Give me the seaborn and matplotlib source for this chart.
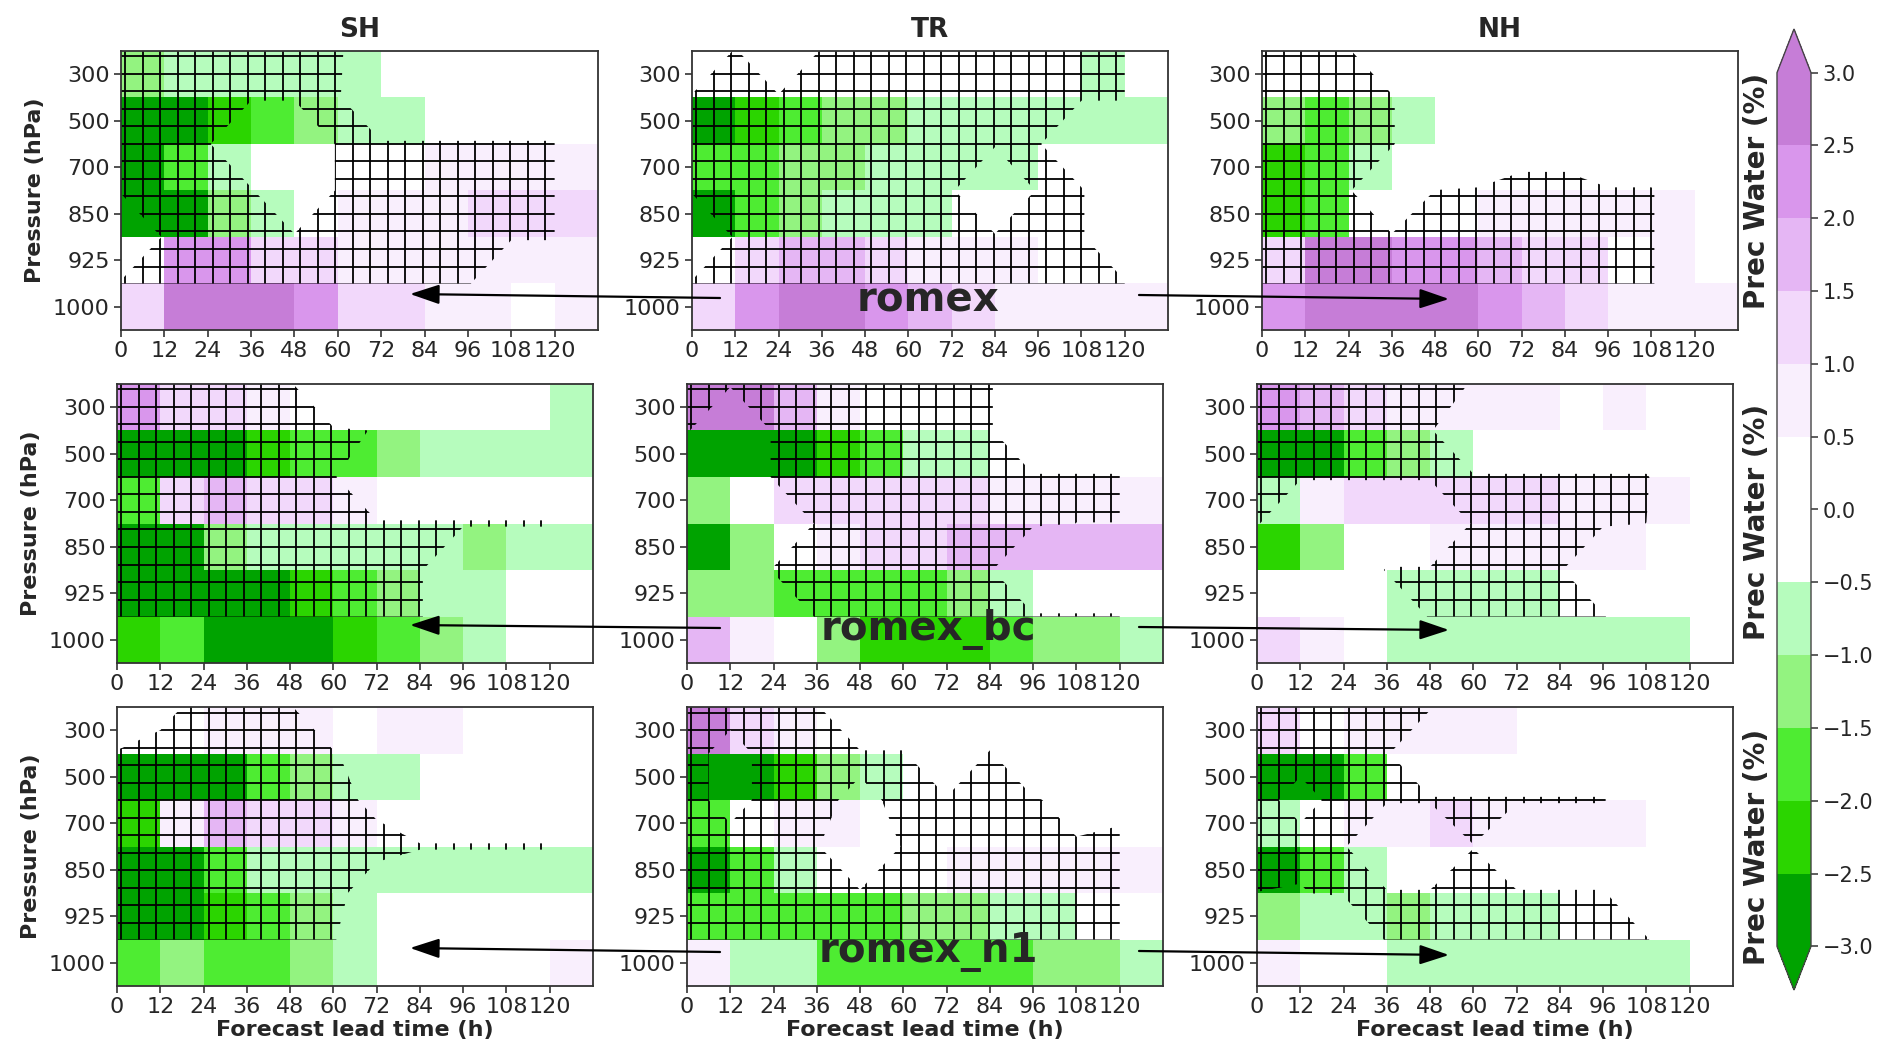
import numpy as np
import pandas as pd
import matplotlib
matplotlib.use("Agg")
import matplotlib.pyplot as plt
from matplotlib.colors import ListedColormap, BoundaryNorm
from matplotlib.cm import ScalarMappable
from matplotlib.patches import FancyArrowPatch
from matplotlib.collections import LineCollection
import seaborn as sns

# ---------------- data ----------------
pressure_levels = ["300", "500", "700", "850", "925", "1000"]
lead_time_ticks = ["0", "12", "24", "36", "48", "60", "72", "84", "96", "108", "120"]
regions = ["SH", "TR", "NH"]
experiments = ["romex", "romex_bc", "romex_n1"]
cbar_levels = [-3.0, -2.5, -2.0, -1.5, -1.0, -0.5, 0.0, 0.5, 1.0, 1.5, 2.0, 2.5, 3.0]
cbar_colors = ["#00a300", "#2bd500", "#4eec32", "#93f380", "#b6fcbd", "#ffffff",
               "#ffffff", "#f9effd", "#f2d8fb", "#e5b6f4", "#d996ec", "#c67dd7"]

# Prec Water difference (%) per pressure level (rows) and lead-time bin (cols)
pw_romex_SH = [
    [-1.25, -0.75, -0.75, -0.75, -0.75, -0.75, 0, 0, 0, 0, 0],
    [-2.75, -2.75, -2.25, -1.75, -1.25, -0.75, -0.75, 0, 0, 0, 0],
    [-2.75, -1.75, -0.75, 0, 0, 0, 0, 0.75, 0.75, 0.75, 0.75],
    [-2.75, -2.75, -1.25, -0.75, 0, 0.75, 0.75, 0.75, 1.25, 1.25, 1.25],
    [0, 2.25, 2.25, 1.25, 1.25, 0.75, 0.75, 0.75, 0.75, 0.75, 0.75],
    [1.25, 2.75, 2.75, 2.75, 2.25, 1.25, 1.25, 0.75, 0.75, 0, 0.75]]
pw_romex_TR = [
    [0, 0, 0, 0, 0, 0, 0, 0, 0, -0.75, 0],
    [-2.75, -2.25, -1.75, -1.25, -1.25, -0.75, -0.75, -0.75, -0.75, -0.75, -0.75],
    [-1.75, -1.75, -1.25, -1.25, -0.75, -0.75, -0.75, -0.75, 0, 0, 0],
    [-2.75, -1.75, -1.25, -0.75, -0.75, -0.75, 0, 0, 0, 0, 0],
    [0, 1.25, 1.75, 1.75, 1.25, 0.75, 0.75, 0.75, 0, 0, 0],
    [1.25, 2.25, 2.75, 2.75, 2.25, 1.75, 1.25, 0.75, 0.75, 0.75, 0.75]]
pw_romex_NH = [
    [0, 0, 0, 0, 0, 0, 0, 0, 0, 0, 0],
    [-1.25, -1.75, -1.25, -0.75, 0, 0, 0, 0, 0, 0, 0],
    [-2.25, -1.75, -0.75, 0, 0, 0, 0, 0, 0, 0, 0],
    [-2.25, -1.75, 0, 0, 0, 0.75, 0.75, 0.75, 0.75, 0.75, 0],
    [1.25, 2.75, 2.75, 2.25, 2.25, 1.75, 1.25, 1.25, 0, 0.75, 0],
    [2.25, 2.75, 2.75, 2.75, 2.75, 2.25, 1.75, 1.25, 0.75, 0.75, 0.75]]
pw_romex_bc_SH = [
    [2.25, 1.25, 1.25, 0.75, 0, 0, 0, 0, 0, 0, -0.75],
    [-2.75, -2.75, -2.75, -2.25, -1.75, -1.75, -1.25, -0.75, -0.75, -0.75, -0.75],
    [-1.75, 1.25, 1.75, 1.25, 1.25, 0.75, 0, 0, 0, 0, 0],
    [-2.75, -2.75, -1.25, -0.75, -0.75, -0.75, -0.75, -0.75, -1.25, -0.75, -0.75],
    [-2.75, -2.75, -2.75, -2.75, -2.25, -1.75, -1.25, -0.75, -0.75, 0, 0],
    [-2.25, -1.75, -2.75, -2.75, -2.75, -2.25, -1.75, -1.25, -0.75, 0, 0]]
pw_romex_bc_TR = [
    [2.75, 2.75, 1.75, 0.75, 0, 0, 0, 0, 0, 0, 0],
    [-2.75, -2.75, -2.75, -2.25, -1.75, -0.75, -0.75, 0, 0, 0, 0],
    [-1.25, 0, 1.25, 1.25, 1.25, 1.25, 1.25, 0.75, 0.75, 0.75, 0.75],
    [-2.75, -1.25, 0, 0.75, 1.25, 1.25, 1.75, 1.75, 1.75, 1.75, 1.75],
    [-1.25, -1.25, -1.75, -1.75, -1.75, -1.75, -1.25, -0.75, 0, 0, 0],
    [1.75, 0.75, 0, -1.25, -2.25, -2.25, -2.25, -1.75, -1.25, -1.25, -0.75]]
pw_romex_bc_NH = [
    [2.25, 1.75, 1.25, 0.75, 0.75, 0.75, 0.75, 0, 0.75, 0, 0],
    [-2.75, -2.75, -1.75, -1.25, -0.75, 0, 0, 0, 0, 0, 0],
    [-0.75, 0.75, 1.25, 1.25, 1.25, 1.25, 1.25, 0.75, 0.75, 0.75, 0],
    [-2.25, -1.25, 0, 0, 0.75, 0.75, 0.75, 0.75, 0.75, 0, 0],
    [0, 0, 0, -0.75, -0.75, -0.75, -0.75, 0, 0, 0, 0],
    [1.25, 0.75, 0, -0.75, -0.75, -0.75, -0.75, -0.75, -0.75, -0.75, 0]]
pw_romex_n1_SH = [
    [0, 0, 0.75, 0.75, 0.75, 0, 0.75, 0.75, 0, 0, 0],
    [-2.75, -2.75, -2.75, -1.75, -1.25, -0.75, -0.75, 0, 0, 0, 0],
    [-2.25, 0.75, 1.75, 1.25, 1.25, 0.75, 0, 0, 0, 0, 0],
    [-2.75, -2.75, -1.75, -0.75, -0.75, -0.75, -0.75, -0.75, -0.75, -0.75, -0.75],
    [-2.75, -2.75, -2.25, -1.75, -1.25, -0.75, 0, 0, 0, 0, 0],
    [-1.75, -1.25, -1.75, -1.75, -1.25, -0.75, 0, 0, 0, 0, 0.75]]
pw_romex_n1_TR = [
    [2.75, 1.25, 0.75, 0, 0, 0, 0, 0, 0, 0, 0],
    [-2.75, -2.75, -2.25, -1.25, -0.75, 0, 0, 0, 0, 0, 0],
    [-1.75, 0, 0.75, 0.75, 0, 0, 0, 0, 0, 0, 0],
    [-2.75, -1.75, -0.75, 0, 0, 0, 0.75, 0.75, 0.75, 0.75, 0.75],
    [-1.75, -1.75, -1.75, -1.75, -1.75, -1.25, -1.25, -0.75, -0.75, 0, 0],
    [0.75, -0.75, -0.75, -1.75, -1.75, -1.75, -1.75, -1.75, -1.25, -1.25, -0.75]]
pw_romex_n1_NH = [
    [1.25, 0, 0.75, 0.75, 0.75, 0.75, 0, 0, 0, 0, 0],
    [-2.75, -2.75, -1.75, 0, 0, 0, 0, 0, 0, 0, 0],
    [-0.75, 0, 0.75, 0.75, 1.25, 0.75, 0.75, 0.75, 0.75, 0, 0],
    [-2.75, -1.75, -0.75, 0, 0, 0, 0, 0, 0, 0, 0],
    [-1.25, -0.75, -0.75, -1.25, -0.75, -0.75, -0.75, 0, 0, 0, 0],
    [0.75, 0, 0, -0.75, -0.75, -0.75, -0.75, -0.75, -0.75, -0.75, 0]]

# p-values of the significance test (hatched where p < 0.05)
pval_romex_SH = [
    [.01, .01, .01, .01, .01, .01, .32, .6, .6, .6, .6],
    [.01, .01, .01, .01, .01, .01, .6, .6, .6, .6, .6],
    [.01, .01, .01, .6, .6, .01, .01, .01, .01, .01, .01],
    [.01, .01, .01, .01, .6, .01, .01, .01, .01, .01, .01],
    [.6, .01, .01, .01, .01, .01, .01, .01, .01, .01, .01],
    [.01, .01, .01, .01, .01, .01, .01, .01, .01, .6, .6]]
pval_romex_TR = [
    [.6, .01, .6, .01, .01, .01, .01, .01, .01, .01, .01],
    [.01, .01, .01, .01, .01, .01, .01, .01, .01, .01, .01],
    [.01, .01, .01, .01, .01, .01, .01, .01, .01, .6, .6],
    [.01, .01, .01, .01, .01, .01, .01, .6, .01, .01, .6],
    [.6, .01, .01, .01, .01, .01, .01, .01, .01, .01, .6],
    [.01, .01, .01, .01, .01, .01, .01, .01, .01, .01, .01]]
pval_romex_NH = [
    [.01, .01, .01, .6, .6, .6, .6, .6, .6, .6, .6],
    [.01, .01, .01, .01, .6, .6, .6, .6, .6, .6, .6],
    [.01, .01, .01, .01, .6, .6, .11, .11, .6, .6, .6],
    [.01, .01, .01, .6, .045, .01, .01, .01, .01, .01, .6],
    [.01, .01, .01, .01, .01, .01, .01, .01, .01, .01, .6],
    [.01, .01, .01, .01, .01, .01, .01, .01, .01, .01, .6]]
pval_romex_bc_SH = [
    [.01, .01, .01, .01, .01, .6, .6, .6, .6, .6, .6],
    [.01, .01, .01, .01, .01, .01, .06, .6, .6, .6, .6],
    [.01, .01, .01, .01, .01, .01, .6, .6, .6, .6, .6],
    [.01, .01, .01, .01, .01, .01, .01, .01, .01, .01, .01],
    [.01, .01, .01, .01, .01, .01, .01, .01, .6, .6, .6],
    [.01, .01, .01, .01, .01, .01, .01, .01, .6, .6, .6]]
pval_romex_bc_TR = [
    [.01, .01, .01, .01, .01, .01, .01, .01, .6, .6, .6],
    [.01, .6, .01, .01, .01, .01, .01, .01, .6, .6, .6],
    [.6, .6, .01, .01, .01, .01, .01, .01, .01, .01, .01],
    [.01, .6, .6, .01, .01, .01, .01, .01, .01, .051, .051],
    [.6, .6, .01, .01, .01, .01, .01, .01, .6, .6, .6],
    [.6, .6, .6, .01, .01, .01, .01, .01, .01, .01, .01]]
pval_romex_bc_NH = [
    [.01, .01, .01, .01, .01, .056, .6, .6, .6, .6, .6],
    [.01, .01, .01, .01, .01, .6, .6, .6, .6, .6, .6],
    [.01, .01, .01, .01, .01, .01, .01, .01, .01, .01, .6],
    [.01, .6, .6, .6, .6, .01, .01, .01, .01, .051, .6],
    [.6, .6, .6, .01, .01, .01, .01, .01, .6, .6, .6],
    [.6, .6, .6, .6, .01, .01, .01, .01, .01, .6, .6]]
pval_romex_n1_SH = [
    [.6, .09, .01, .01, .01, .6, .6, .6, .6, .6, .6],
    [.01, .01, .01, .01, .01, .01, .32, .6, .6, .6, .6],
    [.01, .01, .01, .01, .01, .01, .08, .6, .6, .6, .6],
    [.01, .01, .01, .01, .01, .01, .01, .01, .01, .01, .01],
    [.01, .01, .01, .01, .01, .01, .13, .6, .6, .6, .6],
    [.01, .01, .01, .01, .01, .01, .6, .6, .6, .6, .6]]
pval_romex_n1_TR = [
    [.01, .01, .01, .01, .6, .6, .6, .6, .6, .6, .6],
    [.01, .09, .01, .01, .01, .01, .6, .01, .6, .6, .6],
    [.01, .09, .01, .01, .09, .01, .01, .01, .01, .2, .1],
    [.01, .01, .01, .01, .6, .01, .01, .01, .01, .01, .01],
    [.01, .01, .01, .01, .01, .01, .01, .01, .01, .01, .01],
    [.01, .01, .01, .01, .01, .01, .01, .01, .01, .01, .01]]
pval_romex_n1_NH = [
    [.01, .01, .01, .01, .01, .6, .6, .6, .6, .6, .6],
    [.01, .01, .01, .01, .6, .6, .6, .6, .6, .6, .6],
    [.01, .09, .01, .01, .01, .01, .01, .01, .01, .6, .6],
    [.01, .01, .01, .6, .6, .052, .6, .6, .6, .6, .6],
    [.051, .06, .01, .01, .01, .01, .01, .01, .01, .6, .6],
    [.6, .6, .6, .01, .01, .01, .01, .01, .01, .01, .6]]

panels = {
    ("romex", "SH"): (pw_romex_SH, pval_romex_SH),
    ("romex", "TR"): (pw_romex_TR, pval_romex_TR),
    ("romex", "NH"): (pw_romex_NH, pval_romex_NH),
    ("romex_bc", "SH"): (pw_romex_bc_SH, pval_romex_bc_SH),
    ("romex_bc", "TR"): (pw_romex_bc_TR, pval_romex_bc_TR),
    ("romex_bc", "NH"): (pw_romex_bc_NH, pval_romex_bc_NH),
    ("romex_n1", "SH"): (pw_romex_n1_SH, pval_romex_n1_SH),
    ("romex_n1", "TR"): (pw_romex_n1_TR, pval_romex_n1_TR),
    ("romex_n1", "NH"): (pw_romex_n1_NH, pval_romex_n1_NH),
}

# ---------------- style ----------------
sns.set_style("white")
plt.rcParams["font.family"] = ["DejaVu Sans"]

cmap = ListedColormap(cbar_colors)
cmap.set_under(cbar_colors[0])
cmap.set_over(cbar_colors[-1])
norm = BoundaryNorm(cbar_levels, cmap.N)

W, H = 1892, 1061
fig = plt.figure(figsize=(W / 100, H / 100), dpi=100)


def rect(x0, x1, yt, yb):
    return [x0 / W, 1 - yb / H, (x1 - x0) / W, (yb - yt) / H]


row_y = [(51, 330), (384, 663), (707, 986)]
col_x = [[(121, 598), (692, 1168), (1262, 1738)],
         [(117, 593), (687, 1163), (1257, 1733)],
         [(117, 593), (687, 1163), (1257, 1733)]]
HATCH_STEP = 17.5  # pixels between hatch lines

for r, exp in enumerate(experiments):
    for c, reg in enumerate(regions):
        x0, x1 = col_x[r][c]
        yt, yb = row_y[r]
        ax = fig.add_axes(rect(x0, x1, yt, yb))
        pw, pv = panels[(exp, reg)]
        nrow, ncol = len(pressure_levels), len(lead_time_ticks)
        df = pd.DataFrame(pw, index=pressure_levels, columns=lead_time_ticks)
        sns.heatmap(df, ax=ax, cmap=cmap, norm=norm, cbar=False,
                    xticklabels=False, yticklabels=False, linewidths=0)

        # significance region from contourf, hatched with '+' lines
        X = np.arange(ncol)
        Y = np.arange(nrow)
        cs = ax.contourf(X, Y, np.array(pv), levels=[0, 0.05], colors="none")
        region_paths = [p for p in cs.get_paths() if len(p.vertices) > 0]
        cs.remove()
        wpx, hpx = x1 - x0, yb - yt
        xs = np.arange(4.0, wpx, HATCH_STEP) / wpx * ncol
        ys = np.arange(5.5, hpx, HATCH_STEP) / hpx * nrow
        segs = [[(x, 0), (x, nrow)] for x in xs] + [[(0, y), (ncol, y)] for y in ys]
        for rp in region_paths:
            lc = LineCollection(segs, colors="black", linewidths=1.3, zorder=3)
            lc.set_clip_path(rp, ax.transData)
            ax.add_collection(lc)

        ax.set_xlim(0, ncol)
        ax.set_ylim(nrow, 0)
        ax.set_xticks(X)
        ax.set_xticklabels(lead_time_ticks, rotation=0, fontsize=16)
        ax.set_yticks(Y + 0.5)
        ax.set_yticklabels(pressure_levels, rotation=0, fontsize=16)
        ax.tick_params(left=True, bottom=True, length=5, width=1.2,
                       color="#333333", pad=3)
        for s in ax.spines.values():
            s.set_visible(True)
            s.set_color("#333333")
            s.set_linewidth(1.3)
            s.set_zorder(5)
        if c == 0:
            ax.set_ylabel("Pressure (hPa)", fontsize=16, fontweight="bold",
                          labelpad=6)
        else:
            ax.set_ylabel("")
        if r == 2:
            ax.set_xlabel("Forecast lead time (h)", fontsize=16,
                          fontweight="bold", labelpad=2)
        else:
            ax.set_xlabel("")
        if r == 0:
            fig.text(((x0 + x1) / 2) / W, 1 - 30 / H, reg, fontsize=19,
                     fontweight="bold", ha="center", va="center")

# colorbar
cax = fig.add_axes(rect(1777, 1811, 29, 990))
sm = ScalarMappable(norm=norm, cmap=cmap)
cb = fig.colorbar(sm, cax=cax, extend="both", ticks=cbar_levels,
                  extendfrac=0.05)
cb.ax.set_yticklabels([f"{v:.1f}".replace("-", "\u2212") for v in cbar_levels])
cb.ax.tick_params(labelsize=15, length=5, width=1.1, color="#333333")
cb.outline.set_edgecolor("#444444")
cb.outline.set_linewidth(1.0)

# Prec Water labels
for yc in [191, 522, 847]:
    fig.text(1757 / W, 1 - yc / H, "Prec Water (%)", rotation=90, fontsize=20,
             fontweight="bold", ha="center", va="center")

# experiment names and arrows
name_base = [312, 640, 962]
arrow_rows = [((720, 298), (410, 294), (1139, 295), (1449, 299)),
              ((720, 628), (410, 625), (1139, 627), (1449, 630)),
              ((720, 952), (410, 948), (1139, 951), (1449, 955))]
for r, exp in enumerate(experiments):
    fig.text(928 / W, 1 - name_base[r] / H, exp, fontsize=29,
             fontweight="heavy", ha="center", va="baseline", zorder=10)
    aL0, aL1, aR0, aR1 = arrow_rows[r]
    for p0, p1 in [(aL0, aL1), (aR0, aR1)]:
        arr = FancyArrowPatch((p0[0] / W, 1 - p0[1] / H), (p1[0] / W, 1 - p1[1] / H),
                              transform=fig.transFigure,
                              arrowstyle="-|>,head_length=0.9,head_width=0.3",
                              mutation_scale=20, lw=1.6, color="black",
                              shrinkA=0, shrinkB=0, zorder=10)
        fig.add_artist(arr)

fig.savefig("out.png", dpi=100)
